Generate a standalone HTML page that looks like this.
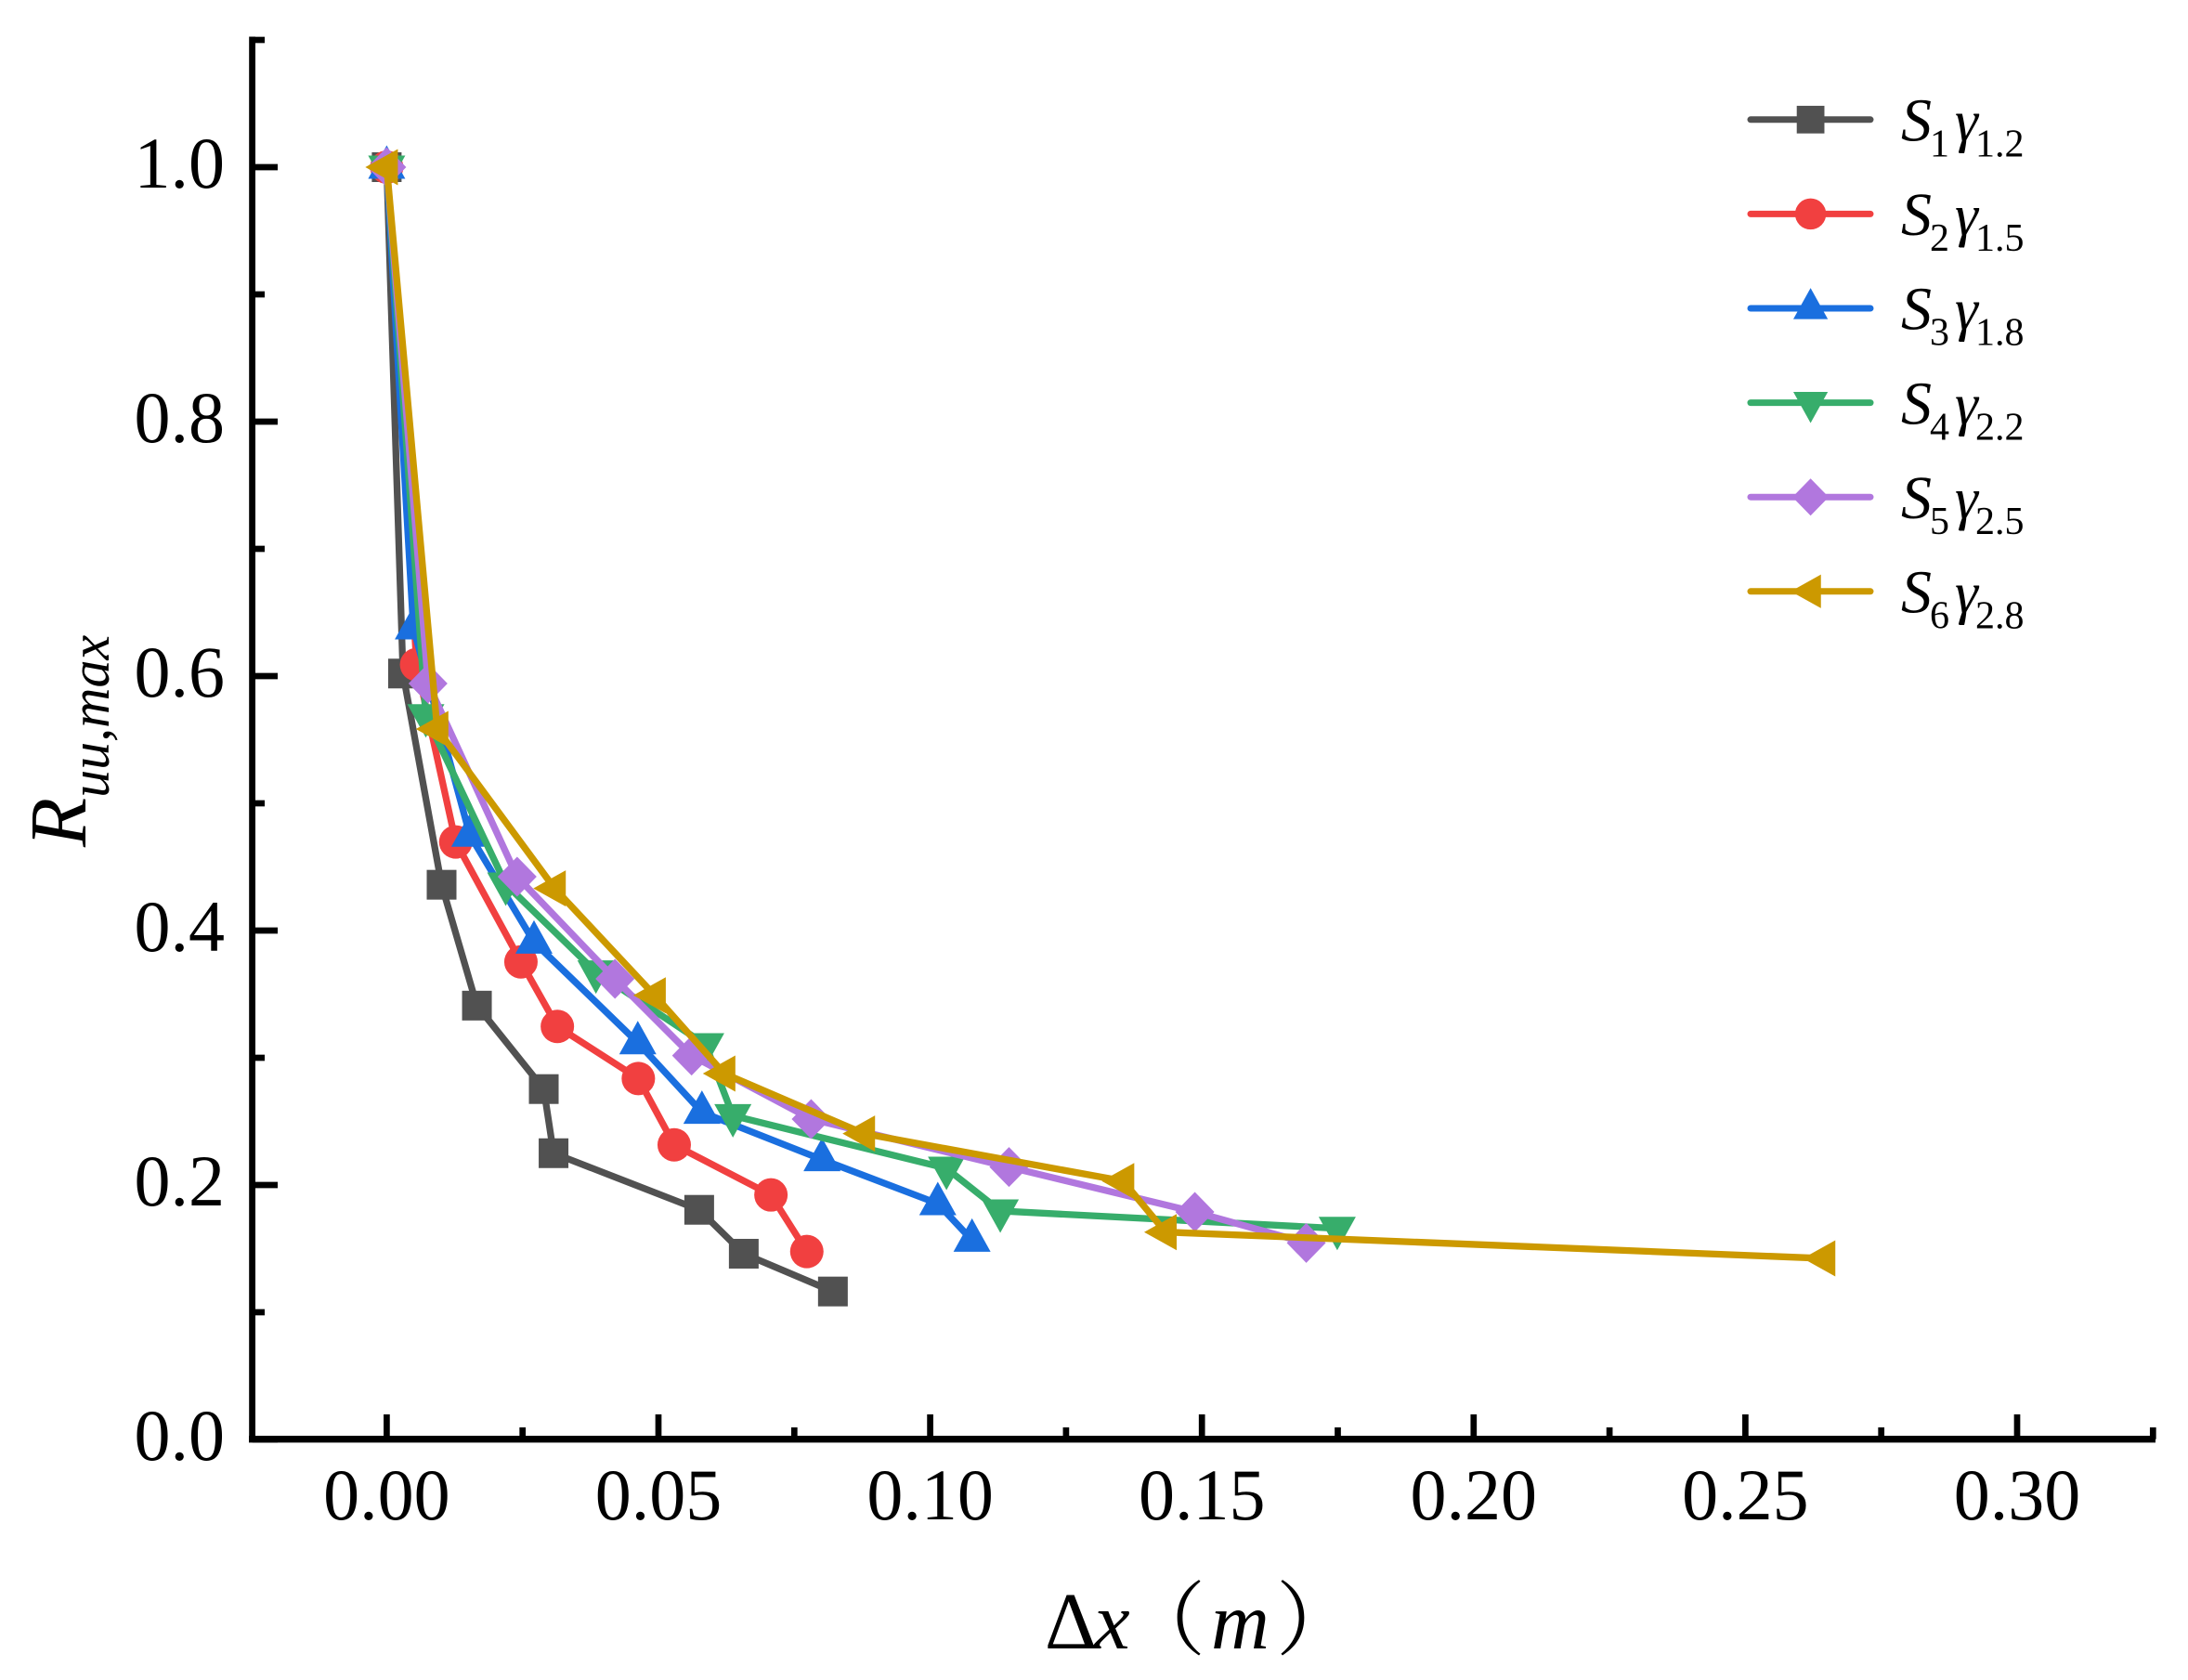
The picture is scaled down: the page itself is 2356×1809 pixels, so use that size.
<!DOCTYPE html>
<html lang="en">
<head>
<meta charset="utf-8">
<title>Ruu,max versus Δx</title>
<style>
html,body{margin:0;padding:0;background:#fff;width:2356px;height:1809px;overflow:hidden}
svg{display:block}
text{font-family:"Liberation Serif","Noto Serif CJK SC",serif;fill:#000}
.it{font-style:italic}
</style>
</head>
<body>
<svg id="chart" xmlns="http://www.w3.org/2000/svg" width="2356" height="1809" viewBox="0 0 2356 1809">
  <rect width="2356" height="1809" fill="#fff"/>
  <g id="axes"></g>
  <g id="series"></g>
  <g id="legend">
    <g id="legend-keys"></g>
    <text y="151.5" font-size="66"><tspan class="it" x="2047">S</tspan><tspan x="2078" dy="17" font-size="42">1</tspan><tspan x="2105" dy="-17" class="it" font-size="63">γ</tspan><tspan x="2127" dy="17" font-size="42">1.2</tspan></text>
    <text y="253.1" font-size="66"><tspan class="it" x="2047">S</tspan><tspan x="2078" dy="17" font-size="42">2</tspan><tspan x="2105" dy="-17" class="it" font-size="63">γ</tspan><tspan x="2127" dy="17" font-size="42">1.5</tspan></text>
    <text y="354.7" font-size="66"><tspan class="it" x="2047">S</tspan><tspan x="2078" dy="17" font-size="42">3</tspan><tspan x="2105" dy="-17" class="it" font-size="63">γ</tspan><tspan x="2127" dy="17" font-size="42">1.8</tspan></text>
    <text y="456.3" font-size="66"><tspan class="it" x="2047">S</tspan><tspan x="2078" dy="17" font-size="42">4</tspan><tspan x="2105" dy="-17" class="it" font-size="63">γ</tspan><tspan x="2127" dy="17" font-size="42">2.2</tspan></text>
    <text y="557.9" font-size="66"><tspan class="it" x="2047">S</tspan><tspan x="2078" dy="17" font-size="42">5</tspan><tspan x="2105" dy="-17" class="it" font-size="63">γ</tspan><tspan x="2127" dy="17" font-size="42">2.5</tspan></text>
    <text y="659.5" font-size="66"><tspan class="it" x="2047">S</tspan><tspan x="2078" dy="17" font-size="42">6</tspan><tspan x="2105" dy="-17" class="it" font-size="63">γ</tspan><tspan x="2127" dy="17" font-size="42">2.8</tspan></text>
  </g>
  <text transform="translate(92,912) rotate(-90)" font-size="87"><tspan class="it">R</tspan><tspan class="it" dy="25" font-size="60">uu,max</tspan></text>
  <text y="1775" font-size="87"><tspan x="1125">Δ</tspan><tspan x="1178" class="it">x</tspan><tspan x="1211">（</tspan><tspan x="1304" class="it">m</tspan><tspan x="1374">）</tspan></text>
</svg>
<script>
var xMajorTicks = [0, 0.05, 0.10, 0.15, 0.20, 0.25, 0.30];
var xMajorLabels = ["0.00", "0.05", "0.10", "0.15", "0.20", "0.25", "0.30"];
var xMinorTicks = [0.025, 0.075, 0.125, 0.175, 0.225, 0.275, 0.325];
var yMajorTicks = [0, 0.2, 0.4, 0.6, 0.8, 1.0];
var yMajorLabels = ["0.0", "0.2", "0.4", "0.6", "0.8", "1.0"];
var yMinorTicks = [0.1, 0.3, 0.5, 0.7, 0.9, 1.1];

var s1x = [0, 0.003, 0.0101, 0.0166, 0.0289, 0.0307, 0.0575, 0.0657, 0.0821];
var s1y = [1, 0.602, 0.436, 0.341, 0.2754, 0.225, 0.1805, 0.146, 0.1163];
var s2x = [0, 0.0055, 0.0127, 0.0247, 0.0314, 0.0463, 0.0529, 0.0707, 0.0773];
var s2y = [1, 0.609, 0.4696, 0.3754, 0.3246, 0.2837, 0.2316, 0.1922, 0.1477];
var s3x = [0, 0.0049, 0.0153, 0.0271, 0.0462, 0.058, 0.0801, 0.1014, 0.1077];
var s3y = [1, 0.638, 0.475, 0.391, 0.3119, 0.2572, 0.22, 0.1854, 0.1567];
var s4x = [0, 0.0072, 0.0219, 0.0385, 0.0587, 0.0637, 0.103, 0.1129, 0.1749];
var s4y = [1, 0.5688, 0.4365, 0.3674, 0.3102, 0.2545, 0.2131, 0.1796, 0.1659];
var s5x = [0, 0.0076, 0.024, 0.042, 0.0561, 0.0781, 0.1145, 0.1487, 0.1692];
var s5y = [1, 0.5942, 0.4423, 0.362, 0.3017, 0.2518, 0.2141, 0.1788, 0.1545];
var s6x = [0, 0.0093, 0.0309, 0.0493, 0.0621, 0.0878, 0.1355, 0.1433, 0.2645];
var s6y = [1, 0.5584, 0.4331, 0.3491, 0.2876, 0.2404, 0.2031, 0.163, 0.1423];

var NS = 'http://www.w3.org/2000/svg';
function sx(v) { return 416.4 + v * 5852; }
function sy(v) { return 1550 - v * 1370; }

function el(tag, parent, attrs) {
  var e = document.createElementNS(NS, tag);
  for (var k in attrs) e.setAttribute(k, attrs[k]);
  parent.appendChild(e);
  return e;
}

var axes = document.getElementById('axes');

var yLine = el('line', axes, {x1: 271.6, x2: 271.6, y1: 39.5, y2: 1553, stroke: '#000', 'stroke-width': 6.8});


var xLine = el('line', axes, {x1: 268, x2: 2321, y1: 1549.7, y2: 1549.7, stroke: '#000', 'stroke-width': 7.4});



yMajorTicks.forEach(function (v, i) {
  var t = el('line', axes, {x1: 271.6, x2: 299, y1: sy(v), y2: sy(v), stroke: '#000', 'stroke-width': 6.7});
  
  
  var l = el('text', axes, {x: 242, y: sy(v) + 22, 'font-size': 78, 'text-anchor': 'end'});
  
  
  l.textContent = yMajorLabels[i];
});
yMinorTicks.forEach(function (v) {
  var t = el('line', axes, {x1: 271.6, x2: 285, y1: sy(v), y2: sy(v), stroke: '#000', 'stroke-width': 6.7});
  
  
});
xMajorTicks.forEach(function (v, i) {
  var t = el('line', axes, {x1: sx(v), x2: sx(v), y1: 1523, y2: 1549.7, stroke: '#000', 'stroke-width': 6.7});
  
  
  var l = el('text', axes, {x: sx(v), y: 1636, 'font-size': 78, 'text-anchor': 'middle'});
  
  
  l.textContent = xMajorLabels[i];
});
xMinorTicks.forEach(function (v) {
  var t = el('line', axes, {x1: sx(v), x2: sx(v), y1: 1537, y2: 1549.7, stroke: '#000', 'stroke-width': 6.7});
  
  
});

function poly(parent, pts, color, cx, cy) {
  var s = pts.map(function (p) { return (cx + p[0]) + ',' + (cy + p[1]); }).join(' ');
  return el('polygon', parent, {points: s, fill: color});
}
function drawMarker(kind, parent, cx, cy, color, k) {
  if (kind === 'square') return el('rect', parent, {x: cx - 16 * k, y: cy - 16 * k, width: 32 * k, height: 32 * k, fill: color});
  if (kind === 'circle') return el('ellipse', parent, {cx: cx, cy: cy, rx: 18 * k, ry: 18 * k, fill: color});
  if (kind === 'up') return poly(parent, [[0, -23.5 * k], [20 * k, 12.5 * k], [-20 * k, 12.5 * k]], color, cx, cy);
  if (kind === 'down') return poly(parent, [[0, 23.5 * k], [20 * k, -12.5 * k], [-20 * k, -12.5 * k]], color, cx, cy);
  if (kind === 'diamond') return poly(parent, [[0, -21.5 * k], [21 * k, 0], [0, 21.5 * k], [-21 * k, 0]], color, cx, cy);
  return poly(parent, [[-23 * k, 0], [12 * k, -19.5 * k], [12 * k, 19.5 * k]], color, cx, cy);
}

function drawSeries(name, xs, ys, color, kind) {
  var g = el('g', document.getElementById('series'), {});
  
  
  var pts = xs.map(function (x, i) { return sx(x) + ',' + sy(ys[i]); }).join(' ');
  var line = el('polyline', g, {points: pts, fill: 'none', stroke: color, 'stroke-width': 7.3, 'stroke-linejoin': 'round'});
  
  
  xs.forEach(function (x, i) {
    var m = drawMarker(kind, g, sx(x), sy(ys[i]), color, 1);
    
    
  });
}

drawSeries('s1', s1x, s1y, '#515151', 'square');
drawSeries('s2', s2x, s2y, '#F14040', 'circle');
drawSeries('s3', s3x, s3y, '#1A6FDF', 'up');
drawSeries('s4', s4x, s4y, '#37AD6B', 'down');
drawSeries('s5', s5x, s5y, '#B177DE', 'diamond');
drawSeries('s6', s6x, s6y, '#CC9900', 'left');

var legendColors = ['#515151', '#F14040', '#1A6FDF', '#37AD6B', '#B177DE', '#CC9900'];
var legendKinds = ['square', 'circle', 'up', 'down', 'diamond', 'left'];
var keys = document.getElementById('legend-keys');
legendKinds.forEach(function (kind, i) {
  var y = 128.8 + i * 101.6;
  var ln = el('line', keys, {x1: 1885, x2: 2014, y1: y, y2: y, stroke: legendColors[i], 'stroke-width': 7, 'stroke-linecap': 'round'});
  
  
  var mk = drawMarker(kind, keys, 1949.6, y, legendColors[i], 0.93);
  
  
});
</script>
</body>
</html>
